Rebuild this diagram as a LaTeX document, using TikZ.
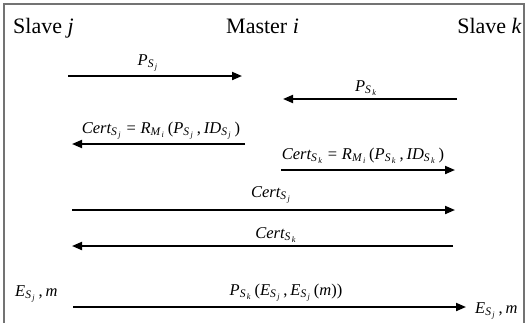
\documentclass[tikz,border=0pt]{standalone}
\usepackage{amsmath}
\usepackage{fontspec}
\setmainfont{Liberation Serif}
\usetikzlibrary{arrows.meta}
\newcommand{\vi}[1]{\text{\itshape #1}}
\newcommand{\Sj}{\vi{S}_{\,\vi{j}}}
\newcommand{\Sk}{\vi{S}_{\,\vi{k}}}
\newcommand{\Mi}{\vi{M}_{\,\vi{i}}}
\newcommand{\tx}[1]{\text{#1}}
\begin{document}
\begin{tikzpicture}[x=1pt,y=-1pt,
  msg/.style={line width=1.9pt,-{Triangle[length=10pt,width=8pt]}},
  lbl/.style={font=\fontsize{16.5}{19}\selectfont,inner sep=0pt,anchor=base},
  ttl/.style={font=\fontsize{22}{26}\selectfont,inner sep=0pt},
  frame/.style={draw=black!55,line width=1.2pt}]
\useasboundingbox (0,0) rectangle (526,322);
\draw[frame] (4,330) -- (4,4) -- (524,4) -- (524,330);
% titles
\node[ttl,anchor=base west] (sj) at (13,33) {Slave \textit{j}};
\node[ttl,anchor=base west] (mi) at (226,33) {Master \textit{i}};
\node[ttl,anchor=base east] (sk) at (522,33) {Slave \textit{k}};
% arrow end points
\coordinate (a1s) at (68,76);  \coordinate (a1e) at (242,76);
\coordinate (a2s) at (457,99); \coordinate (a2e) at (283,99);
\coordinate (a3s) at (245,144); \coordinate (a3e) at (72,144);
\coordinate (a4s) at (281,170); \coordinate (a4e) at (455,170);
\coordinate (a5s) at (72,210); \coordinate (a5e) at (455,210);
\coordinate (a6s) at (453,246); \coordinate (a6e) at (72,246);
\coordinate (a7s) at (73,307); \coordinate (a7e) at (466,307);
\draw[msg] (a1s) -- (a1e);
\draw[msg] (a2s) -- (a2e);
\draw[msg] (a3s) -- (a3e);
\draw[msg] (a4s) -- (a4e);
\draw[msg] (a5s) -- (a5e);
\draw[msg] (a6s) -- (a6e);
\draw[msg] (a7s) -- (a7e);
% labels
\node[lbl] (l1) at (148,65) {$\vi{P}_{\Sj}$};
\node[lbl] (l2) at (366,91) {$\vi{P}_{\Sk}$};
\node[lbl] (l3) at (161,133) {$\vi{Cert}_{\Sj}\mathrel{\tx{=}}\vi{R}_{\Mi}\,\tx{(}\vi{P}_{\Sj}\,\tx{,}\,\vi{ID}_{\Sj}\,\tx{)}$};
\node[lbl] (l4) at (363,159) {$\vi{Cert}_{\Sk}\mathrel{\tx{=}}\vi{R}_{\Mi}\,\tx{(}\vi{P}_{\Sk}\,\tx{,}\,\vi{ID}_{\Sk}\,\tx{)}$};
\node[lbl] (l5) at (271,197) {$\vi{Cert}_{\Sj}$};
\node[lbl] (l6) at (276,238) {$\vi{Cert}_{\Sk}$};
\node[lbl] (l7) at (286,295) {$\vi{P}_{\Sk}\,\tx{(}\vi{E}_{\Sj}\,\tx{,}\,\vi{E}_{\Sj}\,\tx{(}\vi{m}\tx{))}$};
\node[lbl,anchor=base west] (e1) at (15,296) {$\vi{E}_{\Sj}\,\tx{,}\,\vi{m}$};
\node[lbl,anchor=base west] (e2) at (475,313) {$\vi{E}_{\Sj}\,\tx{,}\,\vi{m}$};
\end{tikzpicture}
\end{document}
